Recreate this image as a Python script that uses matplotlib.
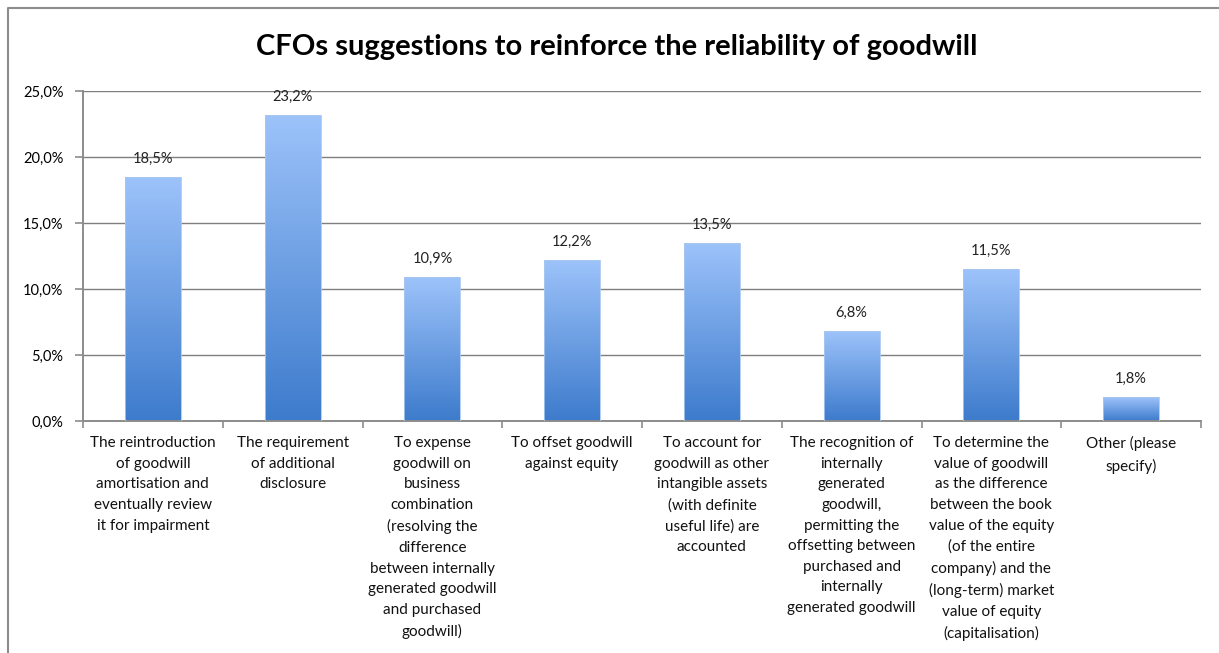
import numpy as np
import matplotlib
matplotlib.use('Agg')
import matplotlib.pyplot as plt
from matplotlib.lines import Line2D
from matplotlib.ticker import FuncFormatter

# dados
categories = [
    "The reintroduction\nof goodwill\namortisation and\neventually review\nit for impairment",
    "The requirement\nof additional\ndisclosure",
    "To expense\ngoodwill on\nbusiness\ncombination\n(resolving the\ndifference\nbetween internally\ngenerated goodwill\nand purchased\ngoodwill)",
    "To offset goodwill\nagainst equity",
    "To account for\ngoodwill as other\nintangible assets\n(with definite\nuseful life) are\naccounted",
    "The recognition of\ninternally\ngenerated\ngoodwill,\npermitting the\noffsetting between\npurchased and\ninternally\ngenerated goodwill",
    "To determine the\nvalue of goodwill\nas the difference\nbetween the book\nvalue of the equity\n(of the entire\ncompany) and the\n(long-term) market\nvalue of equity\n(capitalisation)",
    "Other (please\nspecify)",
]
values = [18.5, 23.2, 10.9, 12.2, 13.5, 6.8, 11.5, 1.8]
yticks = [0, 5, 10, 15, 20, 25]

plt.rcParams['font.family'] = ['Lato', 'DejaVu Sans']

W, H = 1219, 653
fig = plt.figure(figsize=(W / 100, H / 100), dpi=100)
ax = fig.add_axes([83 / W, 1 - 421 / H, (1201 - 83) / W, (421 - 91) / H])

x = np.arange(len(values))
bars = ax.bar(x, values, width=0.4, color='none', edgecolor='#a9c8f0', linewidth=0.6, zorder=3)

# gradiente vertical nas barras
grad = np.linspace(1, 0, 256).reshape(-1, 1)
cmap = matplotlib.colors.LinearSegmentedColormap.from_list('bar', ['#3d7bcc', '#9dc3fa'])
for b in bars:
    x0, w, h = b.get_x(), b.get_width(), b.get_height()
    im = ax.imshow(grad, extent=[x0, x0 + w, 0, h], aspect='auto', cmap=cmap,
                   vmin=0, vmax=1, origin='upper', zorder=2)
    im.set_clip_path(b)
    ax.annotate(f"{h:.1f}%".replace('.', ','), (x0 + w / 2, h), xytext=(0, 8),
                textcoords='offset points', ha='center', va='bottom', fontsize=10.5, color='#222222')

ax.set_xlim(-0.5, len(values) - 0.5)
ax.set_ylim(0, 25)
ax.set_yticks(yticks)
ax.yaxis.set_major_formatter(FuncFormatter(lambda v, p: f"{v:.1f}%".replace('.', ',')))
ax.grid(axis='y', color='#7f7f7f', linewidth=1.0, zorder=0)
ax.set_axisbelow(True)

ax.set_xticks(np.arange(len(values) + 1) - 0.5, minor=False)
ax.set_xticklabels([])
ax.set_xticks(x, minor=True)
ax.set_xticklabels(categories, minor=True, fontsize=11, linespacing=1.6,
                   ha='center', va='top', color='#111111')
ax.tick_params(axis='x', which='minor', length=0, pad=11)
ax.tick_params(axis='x', which='major', length=5, color='#8c8c8c', width=1.2)
ax.tick_params(axis='y', length=6, color='#8c8c8c', width=1.2, labelsize=10.5, pad=8)

for s in ['top', 'right']:
    ax.spines[s].set_visible(False)
for s in ['left', 'bottom']:
    ax.spines[s].set_color('#8c8c8c')
    ax.spines[s].set_linewidth(1.4)

fig.text(617 / W, 1 - 47 / H, 'CFOs suggestions to reinforce the reliability of goodwill',
         ha='center', va='center', fontsize=21, fontweight='bold')

# moldura
fig.add_artist(Line2D([8 / W, 8 / W, 1.0], [0.0, 1 - 8 / H, 1 - 8 / H],
                      transform=fig.transFigure, color='#8c8c8c', linewidth=1.5))

plt.savefig('out.png', dpi=100)
